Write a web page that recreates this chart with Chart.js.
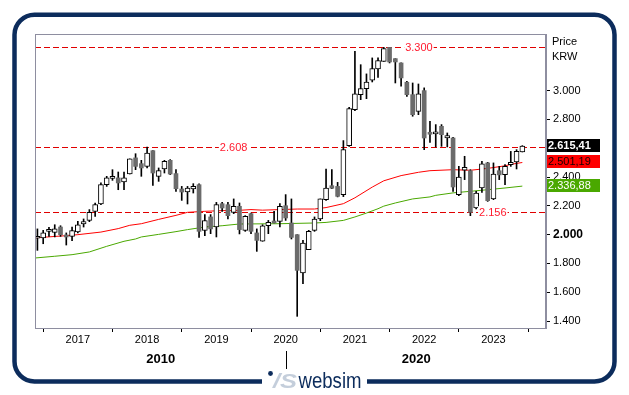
<!DOCTYPE html>
<html>
<head>
<meta charset="utf-8">
<script src="https://cdn.jsdelivr.net/npm/chart.js@4.4.0/dist/chart.umd.min.js"></script>
<style>
  html, body { margin: 0; padding: 0; background: #fff; }
  #chart { display: block; }
</style>
</head>
<body>
<canvas id="chart" width="629" height="395"></canvas>
<script>
// Monatskerzen ab Juni 2016
const startYear = 2016;
const startMonth = 6;

const opens = [1975, 1977, 2023, 2016, 2053, 1998, 1988, 2019, 2074, 2099,
  2162, 2213, 2347, 2391, 2394, 2366, 2421, 2533, 2493, 2474,
  2583, 2405, 2456, 2516, 2424, 2317, 2296, 2317, 2347, 2030,
  2123, 2053, 2215, 2208, 2155, 2197, 2030, 2146, 2012, 1954,
  2062, 2090, 2092, 2201, 2081, 2000, 1734, 1896, 2030, 2109,
  2243, 2340, 2335, 2278, 2618, 2868, 2972, 3014, 3072, 3151,
  3203, 3300, 3222, 3192, 3058, 2972, 2856, 3000, 2710, 2700,
  2752, 2671, 2671, 2278, 2447, 2444, 2185, 2324, 2498, 2248,
  2444, 2417, 2486, 2505, 2574];
const highs = [2040, 2030, 2051, 2069, 2062, 2012, 2053, 2092, 2109, 2174,
  2220, 2359, 2405, 2451, 2435, 2435, 2526, 2562, 2516, 2608,
  2583, 2463, 2516, 2521, 2451, 2335, 2335, 2354, 2352, 2139,
  2139, 2224, 2224, 2224, 2248, 2220, 2132, 2150, 2040, 2069,
  2099, 2162, 2215, 2278, 2248, 2000, 1960, 2030, 2123, 2248,
  2456, 2451, 2363, 2653, 2884, 3273, 3180, 3116, 3227, 3227,
  3300, 3300, 3222, 3192, 3065, 3053, 3046, 3019, 2787, 2764,
  2764, 2706, 2676, 2474, 2544, 2451, 2301, 2509, 2502, 2498,
  2474, 2486, 2578, 2590, 2618];
const lows = [1891, 1937, 1988, 1984, 1988, 1928, 1958, 2012, 2053, 2090,
  2127, 2208, 2335, 2377, 2312, 2312, 2421, 2451, 2405, 2463,
  2342, 2370, 2428, 2417, 2301, 2238, 2213, 2289, 1981, 1993,
  2007, 1984, 2162, 2109, 2146, 2005, 2023, 2007, 1884, 1954,
  2007, 2081, 2053, 2099, 1970, 1433, 1660, 1896, 2023, 2097,
  2238, 2319, 2262, 2264, 2613, 2861, 2937, 2944, 3060, 3092,
  3203, 3192, 3053, 3030, 2960, 2822, 2833, 2590, 2641, 2609,
  2613, 2609, 2301, 2271, 2382, 2132, 2178, 2294, 2231, 2243,
  2382, 2347, 2474, 2456, 2574];
const closes = [1985, 2012, 2035, 2040, 2000, 1984, 2028, 2069, 2090, 2155,
  2208, 2347, 2394, 2400, 2359, 2394, 2526, 2474, 2463, 2567,
  2428, 2444, 2509, 2421, 2319, 2296, 2324, 2335, 2023, 2097,
  2040, 2208, 2185, 2132, 2197, 2035, 2127, 2023, 1960, 2062,
  2085, 2081, 2197, 2116, 1981, 1752, 1942, 2023, 2109, 2248,
  2324, 2322, 2266, 2590, 2875, 2977, 3014, 3060, 3153, 3208,
  3292, 3199, 3199, 3088, 2972, 2833, 2977, 2671, 2697, 2710,
  2694, 2687, 2331, 2400, 2468, 2155, 2289, 2491, 2236, 2421,
  2415, 2474, 2502, 2578, 2615];

// gleitende Durchschnitte (Position = Kerzenindex)
const redMaX = [-0.4, 5, 7, 11, 14, 16, 18, 21, 24, 26, 29, 32, 35, 37, 39, 42, 45, 48, 50, 53, 55, 58, 60, 63, 66, 68, 72, 75, 78, 81, 82, 84];
const redMaY = [1978, 1993, 2000, 2018, 2042, 2065, 2076, 2106, 2134, 2155, 2162, 2167, 2169, 2174, 2170, 2174, 2178, 2178, 2188, 2215, 2256, 2330, 2374, 2410, 2433, 2444, 2451, 2447, 2460, 2478, 2488, 2501];
const greenMaX = [-0.4, 3, 6, 9, 12, 15, 17, 18, 21, 24, 26, 29, 32, 35, 42, 48, 50, 53, 55, 57, 59, 60, 62, 65, 68, 69, 72, 75, 78, 81, 84];
const greenMaY = [1838, 1850, 1861, 1880, 1919, 1954, 1970, 1984, 2002, 2021, 2035, 2053, 2062, 2074, 2076, 2081, 2085, 2099, 2123, 2150, 2180, 2198, 2220, 2248, 2262, 2273, 2290, 2301, 2312, 2324, 2337];

const yTickValues = [1400, 1600, 1800, 2000, 2200, 2400, 2600, 2800, 3000];
const levelValues = [3300, 2608, 2156];
const levelLabelAt = [63.7, 31.6, 76.5];
const badgeValues = [2615.41, 2501.19, 2336.88];
const badgeColors = ['#000000', '#ff0000', '#4aa800'];
const badgeTextColors = ['#ffffff', '#1a0000', '#ffffff'];
const decades = ['2010', '2020'];

const FONT = 'Arial, "Liberation Sans", sans-serif';

// Monats-Labels + Januar-Ticks
const monthLabels = [];
for (let i = 0; i < opens.length; i++) {
  const m = startMonth - 1 + i;
  monthLabels.push({ year: startYear + Math.floor(m / 12), month: (m % 12) + 1 });
}
const yearTickIdx = [];
const yearTickText = [];
monthLabels.forEach((ml, i) => {
  if (ml.month === 1) { yearTickIdx.push(i); yearTickText.push(String(ml.year)); }
});

function fmtNum(v, dec) {
  const parts = v.toFixed(dec).split('.');
  const intPart = parts[0].replace(/\B(?=(\d{3})+(?!\d))/g, '.');
  return dec ? intPart + ',' + parts[1] : intPart;
}

const idx = opens.map((_, i) => i);
const wickData = idx.map(i => ({ x: i, y: [lows[i], highs[i]] }));
const upData = idx.filter(i => closes[i] >= opens[i]).map(i => ({ x: i, y: [opens[i], closes[i]] }));
const downData = idx.filter(i => closes[i] < opens[i]).map(i => ({ x: i, y: [closes[i], opens[i]] }));

const decorations = {
  id: 'decorations',
  beforeDatasetsDraw(chart) {
    const { ctx, chartArea: a, scales: { y } } = chart;
    ctx.save();
    ctx.strokeStyle = '#e00000';
    ctx.lineWidth = 1;
    ctx.setLineDash([6, 3]);
    levelValues.forEach(v => {
      const py = Math.round(y.getPixelForValue(v)) + 0.5;
      ctx.beginPath();
      ctx.moveTo(a.left, py);
      ctx.lineTo(a.right, py);
      ctx.stroke();
    });
    ctx.restore();
  },
  afterDraw(chart) {
    const { ctx, chartArea: a, scales: { x, y } } = chart;
    ctx.save();

    // Rahmen Plotbereich
    ctx.strokeStyle = '#8e8ea0';
    ctx.lineWidth = 1;
    ctx.strokeRect(Math.round(a.left) + 0.5, Math.round(a.top) + 0.5,
      Math.round(a.right - a.left) - 1, Math.round(a.bottom - a.top));

    // Beschriftung der Linien
    ctx.font = '11px ' + FONT;
    ctx.textBaseline = 'middle';
    ctx.textAlign = 'left';
    levelValues.forEach((v, i) => {
      const txt = fmtNum(v, 0);
      const px = x.getPixelForValue(levelLabelAt[i]);
      const py = y.getPixelForValue(v);
      const w = ctx.measureText(txt).width;
      ctx.fillStyle = '#fff';
      ctx.fillRect(px - 1, py - 6, w + 2, 12);
      ctx.fillStyle = '#ff1a2e';
      ctx.fillText(txt, px, py + 0.5);
    });

    // Kurs-Badges rechts
    ctx.font = 'bold 11px ' + FONT;
    badgeValues.forEach((v, i) => {
      const py = y.getPixelForValue(v) - 1;
      ctx.fillStyle = badgeColors[i];
      ctx.fillRect(a.right + 1, Math.round(py - 6.5), 53, 13);
      ctx.fillStyle = badgeTextColors[i];
      ctx.font = (i === 0 ? 'bold ' : '') + '11px ' + FONT;
      ctx.fillText(fmtNum(v, 2), a.right + 2, py + 0.5);
    });

    // Einheit
    ctx.fillStyle = '#000';
    ctx.font = '11px ' + FONT;
    ctx.fillText('Price', a.right + 6, 42);
    ctx.fillText('KRW', a.right + 6, 57);

    // Dekaden-Ebene der x-Achse
    const splitX = Math.round(x.getPixelForValue(yearTickIdx[3])) + 0.5;
    ctx.strokeStyle = '#000';
    ctx.beginPath();
    ctx.moveTo(splitX, 351);
    ctx.lineTo(splitX, 369);
    ctx.stroke();
    ctx.font = 'bold 13px ' + FONT;
    ctx.textAlign = 'center';
    ctx.fillText(decades[0], (a.left + splitX) / 2, 359);
    ctx.fillText(decades[1], (splitX + a.right) / 2, 359);

    // äußerer Rahmen
    const L = 14.5, T = 14.8, R = 614.5, B = 381.5, rad = 20;
    ctx.strokeStyle = '#0c2c5c';
    ctx.lineWidth = 4.5;
    ctx.beginPath();
    ctx.moveTo(L + rad, T);
    ctx.lineTo(R - rad, T);
    ctx.arcTo(R, T, R, T + rad, rad);
    ctx.lineTo(R, B - rad);
    ctx.arcTo(R, B, R - rad, B, rad);
    ctx.lineTo(367, B);
    ctx.moveTo(262, B);
    ctx.lineTo(L + rad, B);
    ctx.arcTo(L, B, L, B - rad, rad);
    ctx.lineTo(L, T + rad);
    ctx.arcTo(L, T, L + rad, T, rad);
    ctx.stroke();

    // Logo
    ctx.fillStyle = '#0c2c5c';
    ctx.beginPath();
    ctx.arc(270.5, 373.5, 2.4, 0, Math.PI * 2);
    ctx.fill();
    ctx.textBaseline = 'alphabetic';
    ctx.textAlign = 'left';
    ctx.font = 'italic bold 21px ' + FONT;
    ctx.fillStyle = '#c4cedb';
    let w = ctx.measureText('/S').width;
    ctx.save();
    ctx.translate(273, 388);
    ctx.scale(24 / w, 1);
    ctx.fillText('/S', 0, 0);
    ctx.restore();
    ctx.font = '22px ' + FONT;
    ctx.fillStyle = '#0c2c5c';
    w = ctx.measureText('websim').width;
    ctx.save();
    ctx.translate(298.5, 388);
    ctx.scale(63 / w, 1);
    ctx.fillText('websim', 0, 0);
    ctx.restore();

    ctx.restore();
  }
};

Chart.defaults.font.family = FONT;

new Chart(document.getElementById('chart'), {
  type: 'bar',
  data: {
    datasets: [
      {
        type: 'line',
        data: redMaX.map((v, i) => ({ x: v, y: redMaY[i] })),
        borderColor: '#ff0000',
        borderWidth: 1,
        pointRadius: 0,
        tension: 0,
        order: 5
      },
      {
        type: 'line',
        data: greenMaX.map((v, i) => ({ x: v, y: greenMaY[i] })),
        borderColor: '#4aa800',
        borderWidth: 1,
        pointRadius: 0,
        tension: 0,
        order: 5
      },
      {
        data: wickData,
        backgroundColor: '#000',
        barThickness: 1,
        grouped: false,
        order: 3
      },
      {
        data: upData,
        backgroundColor: '#fff',
        borderColor: '#000',
        borderWidth: 1,
        borderSkipped: false,
        barThickness: 5,
        minBarLength: 2,
        grouped: false,
        order: 1
      },
      {
        data: downData,
        backgroundColor: '#6b6b6b',
        borderWidth: 0,
        barThickness: 4,
        minBarLength: 2,
        grouped: false,
        order: 1
      }
    ]
  },
  options: {
    responsive: false,
    animation: false,
    devicePixelRatio: 1,
    layout: { padding: { top: 34, left: 35, right: 0, bottom: 0 } },
    plugins: { legend: { display: false }, tooltip: { enabled: false } },
    scales: {
      x: {
        type: 'linear',
        min: -0.42,
        max: 88.1,
        offset: false,
        afterBuildTicks: (scale) => { scale.ticks = yearTickIdx.map(v => ({ value: v })); },
        afterFit: (scale) => { scale.height = 67; },
        grid: { display: true, drawOnChartArea: false, drawTicks: true, tickLength: 4, color: '#000' },
        border: { display: true, color: '#8e8ea0' },
        ticks: {
          autoSkip: false,
          maxRotation: 0,
          padding: 1,
          color: '#000',
          font: { size: 11 },
          callback: (v, i) => yearTickText[i]
        }
      },
      y: {
        position: 'right',
        min: 1352,
        max: 3393,
        afterBuildTicks: (scale) => { scale.ticks = yTickValues.map(v => ({ value: v })); },
        afterFit: (scale) => { scale.width = 83; },
        grid: { display: true, drawOnChartArea: false, drawTicks: true, tickLength: 4, color: '#000' },
        border: { display: true, color: '#8e8ea0' },
        ticks: {
          padding: 3,
          color: '#000',
          font: (c) => (c.tick && c.tick.value === 2000) ? { size: 12, weight: 'bold' } : { size: 11 },
          callback: (v) => fmtNum(v, 0)
        }
      }
    }
  },
  plugins: [decorations]
});
</script>
</body>
</html>
